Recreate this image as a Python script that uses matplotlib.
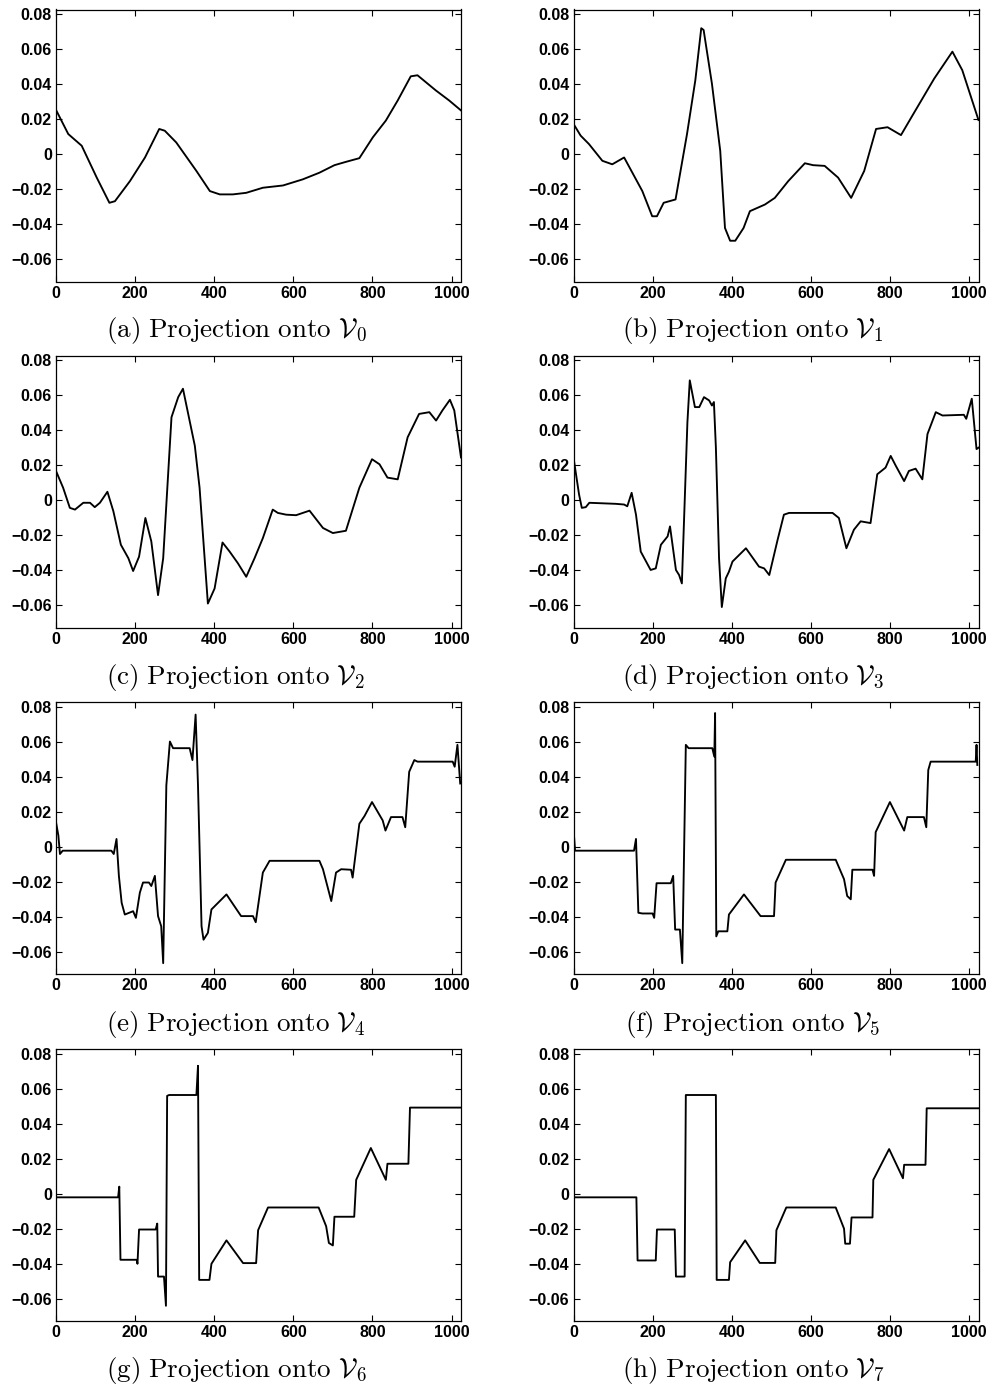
import numpy as np
import matplotlib
matplotlib.use("Agg")
import matplotlib.pyplot as plt

plt.rcParams["mathtext.fontset"] = "cm"
plt.rcParams["font.family"] = ["Liberation Sans", "DejaVu Sans"]

# Vertices of each projection (sample index, value)
x_v0 = [0, 31, 65, 103, 135, 149, 187, 225, 261, 275, 304, 355, 389, 414, 447, 481, 523,
        574, 624, 666, 704, 733, 767, 801, 834, 864, 897, 914, 960, 994, 1024]
y_v0 = [0.0253, 0.0115, 0.0048, -0.0134, -0.0278, -0.0269, -0.0154, -0.0019, 0.0144,
        0.0134, 0.0067, -0.0096, -0.0211, -0.0230, -0.0230, -0.0221, -0.0192, -0.0179,
        -0.0144, -0.0106, -0.0063, -0.0044, -0.0023, 0.0096, 0.0192, 0.0307, 0.0445,
        0.0451, 0.0365, 0.0307, 0.0250]

x_v1 = [0, 18, 39, 73, 98, 128, 174, 199, 211, 228, 258, 287, 308, 323, 329, 350, 371,
        383, 396, 409, 430, 446, 484, 509, 543, 585, 606, 635, 669, 702, 735, 765, 794,
        828, 857, 912, 958, 983, 1024]
y_v1 = [0.0173, 0.0106, 0.0058, -0.0038, -0.0058, -0.0019, -0.0211, -0.0355, -0.0355,
        -0.0278, -0.0259, 0.0115, 0.0422, 0.0720, 0.0710, 0.0403, 0.0019, -0.0422,
        -0.0495, -0.0495, -0.0422, -0.0326, -0.0288, -0.0250, -0.0154, -0.0052, -0.0063,
        -0.0067, -0.0134, -0.0250, -0.0096, 0.0144, 0.0154, 0.0109, 0.0221, 0.0432,
        0.0586, 0.0480, 0.0195]

x_v2 = [0, 18, 35, 48, 69, 86, 98, 111, 130, 145, 164, 183, 195, 210, 226, 241, 258,
        271, 292, 309, 321, 351, 363, 384, 401, 421, 439, 460, 481, 502, 523, 548, 561,
        582, 607, 641, 675, 700, 733, 767, 799, 818, 838, 864, 889, 918, 944, 961, 977,
        996, 1007, 1024]
y_v2 = [0.0167, 0.0071, -0.0044, -0.0054, -0.0015, -0.0015, -0.0040, -0.0015, 0.0048,
        -0.0063, -0.0255, -0.0332, -0.0405, -0.0323, -0.0102, -0.0236, -0.0543, -0.0332,
        0.0474, 0.0589, 0.0637, 0.0311, 0.0071, -0.0591, -0.0505, -0.0242, -0.0294,
        -0.0361, -0.0438, -0.0332, -0.0217, -0.0054, -0.0073, -0.0083, -0.0086, -0.0060,
        -0.0159, -0.0188, -0.0175, 0.0071, 0.0234, 0.0205, 0.0129, 0.0119, 0.0359,
        0.0493, 0.0503, 0.0455, 0.0513, 0.0574, 0.0513, 0.0244]

x_v3 = [0, 14, 21, 31, 40, 107, 128, 136, 147, 158, 170, 195, 208, 221, 238, 244, 259,
        267, 274, 288, 294, 307, 318, 330, 343, 350, 355, 360, 368, 375, 385, 393, 402,
        436, 469, 482, 495, 516, 532, 545, 655, 671, 690, 709, 726, 751, 768, 789, 802,
        815, 836, 848, 865, 882, 895, 916, 933, 987, 993, 1007, 1019, 1024]
y_v3 = [0.0244, 0.0033, -0.0044, -0.0040, -0.0015, -0.0021, -0.0025, -0.0035, 0.0042,
        -0.0083, -0.0294, -0.0399, -0.0390, -0.0255, -0.0207, -0.0150, -0.0399, -0.0428,
        -0.0476, 0.0445, 0.0685, 0.0532, 0.0532, 0.0589, 0.0570, 0.0541, 0.0561, 0.0301,
        -0.0332, -0.0611, -0.0447, -0.0409, -0.0351, -0.0275, -0.0380, -0.0390, -0.0428,
        -0.0227, -0.0083, -0.0073, -0.0073, -0.0102, -0.0275, -0.0169, -0.0121, -0.0131,
        0.0148, 0.0186, 0.0253, 0.0196, 0.0109, 0.0167, 0.0180, 0.0119, 0.0378, 0.0503,
        0.0484, 0.0488, 0.0465, 0.0580, 0.0292, 0.0300]

x_v4 = [0, 6, 10, 17, 140, 146, 153, 159, 166, 174, 195, 202, 212, 220, 235, 241, 250,
        258, 266, 271, 279, 288, 296, 338, 345, 353, 359, 368, 373, 384, 393, 431, 468,
        498, 505, 523, 540, 666, 675, 696, 708, 721, 746, 750, 767, 780, 799, 826, 833,
        847, 876, 883, 893, 906, 914, 1003, 1008, 1015, 1022]
y_v4 = [0.0140, 0.0063, -0.0042, -0.0023, -0.0023, -0.0042, 0.0044, -0.0167, -0.0321,
        -0.0388, -0.0369, -0.0407, -0.0263, -0.0205, -0.0205, -0.0225, -0.0167, -0.0397,
        -0.0455, -0.0666, 0.0351, 0.0601, 0.0563, 0.0563, 0.0495, 0.0755, 0.0351,
        -0.0455, -0.0532, -0.0493, -0.0359, -0.0273, -0.0397, -0.0397, -0.0432, -0.0148,
        -0.0081, -0.0081, -0.0129, -0.0311, -0.0148, -0.0129, -0.0132, -0.0177, 0.0131,
        0.0175, 0.0255, 0.0150, 0.0092, 0.0169, 0.0169, 0.0111, 0.0428, 0.0495, 0.0486,
        0.0486, 0.0457, 0.0582, 0.0361]

x_v5 = [0, 4, 153, 158, 164, 174, 200, 204, 210, 246, 252, 257, 269, 275, 284, 291, 351,
        356, 358, 361, 366, 389, 393, 431, 473, 507, 511, 537, 663, 684, 692, 701, 705,
        756, 760, 764, 800, 836, 844, 886, 892, 897, 903, 1017, 1019, 1021]
y_v5 = [0.0102, -0.0023, -0.0023, 0.0044, -0.0378, -0.0382, -0.0382, -0.0407, -0.0209,
        -0.0209, -0.0167, -0.0474, -0.0474, -0.0666, 0.0582, 0.0563, 0.0563, 0.0515,
        0.0764, -0.0513, -0.0484, -0.0484, -0.0388, -0.0273, -0.0397, -0.0397, -0.0205,
        -0.0075, -0.0075, -0.0186, -0.0282, -0.0301, -0.0132, -0.0132, -0.0167, 0.0083,
        0.0255, 0.0092, 0.0169, 0.0169, 0.0111, 0.0438, 0.0486, 0.0486, 0.0582, 0.0467]

x_v6 = [0, 157, 160, 163, 204, 206, 210, 252, 256, 258, 273, 278, 281, 286, 355, 359,
        362, 388, 393, 431, 473, 506, 511, 536, 664, 683, 690, 700, 704, 754, 759, 796,
        834, 838, 891, 895, 1022]
y_v6 = [-0.0021, -0.0021, 0.0040, -0.0378, -0.0378, -0.0401, -0.0205, -0.0205, -0.0171,
        -0.0474, -0.0474, -0.0641, 0.0559, 0.0564, 0.0564, 0.0731, -0.0493, -0.0493,
        -0.0401, -0.0267, -0.0397, -0.0397, -0.0209, -0.0079, -0.0079, -0.0186, -0.0282,
        -0.0296, -0.0132, -0.0132, 0.0079, 0.0261, 0.0079, 0.0171, 0.0171, 0.0492,
        0.0492]

x_v7 = [0, 159, 162, 208, 211, 256, 259, 281, 284, 360, 362, 393, 396, 434, 471, 510,
        513, 538, 663, 684, 687, 699, 703, 756, 758, 798, 833, 836, 890, 893, 1024]
y_v7 = [-0.0021, -0.0021, -0.0382, -0.0382, -0.0205, -0.0205, -0.0474, -0.0474, 0.0564,
        0.0564, -0.0493, -0.0493, -0.0392, -0.0267, -0.0396, -0.0396, -0.0209, -0.0079,
        -0.0079, -0.0200, -0.0286, -0.0286, -0.0136, -0.0136, 0.0079, 0.0255, 0.0088,
        0.0165, 0.0165, 0.0488, 0.0488]

series = [(x_v0, y_v0), (x_v1, y_v1), (x_v2, y_v2), (x_v3, y_v3),
          (x_v4, y_v4), (x_v5, y_v5), (x_v6, y_v6), (x_v7, y_v7)]
letters = ["a", "b", "c", "d", "e", "f", "g", "h"]

y_ticks = [-0.06, -0.04, -0.02, 0, 0.02, 0.04, 0.06, 0.08]
y_tick_labels = ["\u22120.06", "\u22120.04", "\u22120.02", "0", "0.02", "0.04", "0.06", "0.08"]
x_ticks = [0, 200, 400, 600, 800, 1000]

W, H = 992, 1392
fig = plt.figure(figsize=(W / 100, H / 100), dpi=100)

col_left = [56, 573.5]
ax_w = 405
row_top = [9.5, 355.5, 702, 1049]
ax_h = 272
caption_x = [236, 753]
caption_y = [331, 678, 1024, 1371]

for i, (xs, ys) in enumerate(series):
    r, c = divmod(i, 2)
    ax = fig.add_axes([col_left[c] / W, 1 - (row_top[r] + ax_h) / H, ax_w / W, ax_h / H])
    ax.plot(xs, ys, color="black", lw=1.35)
    ax.set_xlim(0, 1024)
    ax.set_ylim(-0.0728, 0.0827)
    ax.set_xticks(x_ticks)
    ax.set_xticklabels([str(t) for t in x_ticks])
    ax.set_yticks(y_ticks)
    ax.set_yticklabels(y_tick_labels)
    ax.tick_params(direction="in", top=True, right=True, length=4, width=0.8,
                   labelsize=11.5, pad=3)
    for lab in ax.get_xticklabels() + ax.get_yticklabels():
        lab.set_fontweight("bold")
    for sp in ax.spines.values():
        sp.set_linewidth(0.9)
    fig.text(caption_x[c] / W, 1 - caption_y[r] / H,
             r"$\mathrm{(%s)\ Projection\ onto\ }\mathcal{V}_%d$" % (letters[i], i),
             ha="center", va="center", fontsize=19.5)

fig.savefig("out.png", dpi=100)
